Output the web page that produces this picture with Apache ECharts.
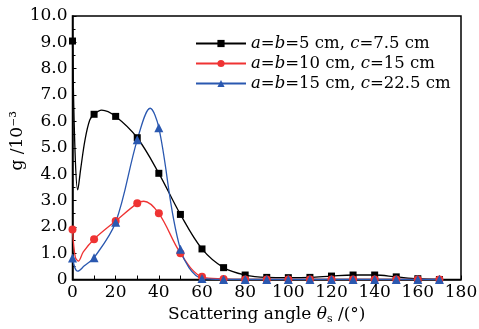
<!DOCTYPE html>
<html>
<head>
<meta charset="utf-8">
<script src="https://cdn.jsdelivr.net/npm/echarts@6/dist/echarts.min.js"></script>
<style>
  html, body { margin: 0; padding: 0; background: #fff; }
  #chart { width: 479px; height: 329px; }
</style>
</head>
<body>
<div id="chart"></div>
<script>
// scattering angle (deg) of the marked points
var angles = [0, 10, 20, 30, 40, 50, 60, 70, 80, 90, 100, 110, 120, 130, 140, 150, 160, 170];
// g / 1e-3
var gSmall = [9.05, 6.27, 6.19, 5.38, 4.03, 2.47, 1.16, 0.45, 0.17, 0.08, 0.07, 0.08, 0.13, 0.17, 0.17, 0.1, 0.03, 0.0];
var gMid   = [1.9, 1.53, 2.22, 2.89, 2.51, 1.0, 0.1, 0.02, 0.0, 0.0, 0.0, 0.0, 0.0, 0.0, 0.0, 0.0, 0.0, 0.0];
var gLarge = [0.82, 0.83, 2.17, 5.3, 5.76, 1.15, 0.04, 0.0, 0.0, 0.0, 0.0, 0.0, 0.0, 0.0, 0.0, 0.0, 0.0, 0.0];
// unmarked points of the fitted curves (angle, g)
var curveSmall = [[1.2, 4.8], [2.4, 3.4], [3.8, 4.2], [5.8, 5.3], [8, 6.05], [13.5, 6.43]];
var curveMid   = [[1.3, 0.85], [2.7, 0.7], [5, 1.05], [33, 2.97]];
var curveLarge = [[1.1, 0.45], [2.4, 0.32], [5.5, 0.52], [36, 6.5]];

var names = ['a=b=5 cm, c=7.5 cm', 'a=b=10 cm, c=15 cm', 'a=b=15 cm, c=22.5 cm'];
var legendRich = [
  '{i|a}={i|b}=5 cm, {i|c}=7.5 cm',
  '{i|a}={i|b}=10 cm, {i|c}=15 cm',
  '{i|a}={i|b}=15 cm, {i|c}=22.5 cm'
];

var FONT = 'DejaVu Serif';

function build(vals, extra) {
  var pts = angles.map(function (a, i) { return { value: [a, vals[i]] }; });
  extra.forEach(function (p) {
    pts.push({ value: p, symbol: 'none' });
  });
  pts.sort(function (p, q) { return p.value[0] - q.value[0]; });
  return pts;
}

function mkSeries(name, vals, extra, color, symbol, size) {
  return {
    name: name,
    type: 'line',
    smooth: 0.35,
    data: build(vals, extra),
    symbol: symbol,
    symbolSize: size,
    itemStyle: { color: color },
    lineStyle: { color: color, width: 1.3 },
    clip: true
  };
}

var chart = echarts.init(document.getElementById('chart'));
chart.setOption({
  animation: false,
  backgroundColor: '#fff',
  grid: {
    left: 72.5, right: 18, top: 16, bottom: 49.5,
    outerBoundsMode: 'none',
    show: true, borderColor: '#000', borderWidth: 1.5
  },
  legend: {
    left: 190, top: 30, orient: 'vertical',
    itemWidth: 50, itemHeight: 9, itemGap: 3,
    data: names,
    formatter: function (n) { return legendRich[names.indexOf(n)]; },
    textStyle: {
      fontFamily: FONT, fontSize: 16.5, color: '#000', lineHeight: 17,
      rich: { i: { fontFamily: FONT, fontSize: 16.5, fontStyle: 'italic', color: '#000' } }
    }
  },
  xAxis: {
    type: 'value', min: 0, max: 180, interval: 20,
    name: '{t|Scattering angle }{i|θ}{s|s}{t| /(°)}',
    nameLocation: 'middle', nameGap: 25,
    nameTextStyle: {
      rich: {
        t: { fontFamily: FONT, fontSize: 17, color: '#000' },
        i: { fontFamily: FONT, fontSize: 17, fontStyle: 'italic', color: '#000' },
        s: { fontFamily: FONT, fontSize: 11, color: '#000', padding: [9, 0, 0, 0] }
      }
    },
    axisLine: { lineStyle: { color: '#000', width: 1.5 } },
    axisTick: { inside: true, length: 4, lineStyle: { color: '#000' } },
    minorTick: { show: true, splitNumber: 2, length: 4, lineStyle: { color: '#000' } },
    splitLine: { show: false },
    axisLabel: { fontFamily: FONT, fontSize: 17, color: '#000', margin: 5 }
  },
  yAxis: {
    type: 'value', min: 0, max: 10, interval: 1,
    name: 'g /10⁻³',
    nameLocation: 'middle', nameGap: 46, nameRotate: 90,
    nameMoveOverlap: false,
    nameTextStyle: { fontFamily: FONT, fontSize: 17, color: '#000', padding: [0, 0, 0, 14] },
    axisLine: { lineStyle: { color: '#000', width: 1.5 } },
    axisTick: { inside: true, length: 4, lineStyle: { color: '#000' } },
    minorTick: { show: true, splitNumber: 2, length: 3, lineStyle: { color: '#000' } },
    splitLine: { show: false },
    axisLabel: {
      fontFamily: FONT, fontSize: 17, color: '#000', margin: 5,
      formatter: function (v) { return v === 0 ? '0' : v.toFixed(1); }
    }
  },
  series: [
    mkSeries(names[0], gSmall, curveSmall, '#000000', 'rect', 7),
    mkSeries(names[1], gMid, curveMid, '#ef3333', 'circle', 8),
    mkSeries(names[2], gLarge, curveLarge, '#2a58b0', 'triangle', 9)
  ]
});
</script>
</body>
</html>
